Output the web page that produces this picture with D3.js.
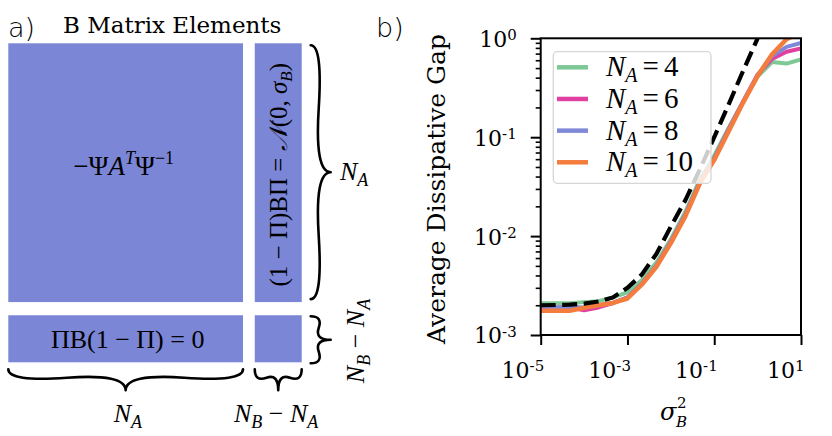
<!DOCTYPE html>
<html>
<head>
<meta charset="utf-8">
<script src="https://cdn.jsdelivr.net/npm/d3@7/dist/d3.min.js"></script>
<style>
  html, body { margin: 0; padding: 0; background: #fff; }
  svg { display: block; }
  text { font-family: "DejaVu Serif", serif; fill: #000; }
</style>
</head>
<body>
<svg id="fig" width="832" height="436"></svg>
<script>
// ---------------- DATA ----------------
// sigma_B^2 sample values (x axis, log spaced)
const sigma2 = [1e-5, 2.154e-5, 4.642e-5, 1e-4, 2.154e-4, 4.642e-4, 1e-3, 2.154e-3, 4.642e-3,
                1e-2, 2.154e-2, 4.642e-2, 0.1, 0.2154, 0.4642, 1, 2.154, 4.642, 10];
const seriesNames = ["4", "6", "8", "10"];
const gapNA4  = [0.0021, 0.0021, 0.0021, 0.00215, 0.0022, 0.0024, 0.0027, 0.0036, 0.0054, 0.0093,
                 0.0175, 0.037, 0.065, 0.125, 0.23, 0.41, 0.575, 0.555, 0.61];
const gapNA6  = [0.0019, 0.0019, 0.0019, 0.00178, 0.0019, 0.0021, 0.0024, 0.0033, 0.005, 0.0088,
                 0.0165, 0.035, 0.061, 0.12, 0.23, 0.43, 0.62, 0.73, 0.79];
const gapNA8  = [0.00195, 0.0019, 0.00192, 0.0019, 0.002, 0.00212, 0.00238, 0.0033, 0.005, 0.0087,
                 0.0163, 0.035, 0.061, 0.118, 0.228, 0.42, 0.66, 0.82, 0.90];
const gapNA10 = [0.00176, 0.00176, 0.00176, 0.00188, 0.0020, 0.00211, 0.00234, 0.00324, 0.0049, 0.0085,
                 0.0158, 0.0339, 0.0589, 0.115, 0.224, 0.417, 0.69, 0.98, 1.15];
// dashed theory curve (first 16 sigma values)
const theoryGap = [0.0020, 0.00201, 0.00203, 0.00208, 0.00218, 0.0024, 0.0030, 0.0041, 0.0066, 0.0125,
                   0.023, 0.047, 0.10, 0.215, 0.47, 1.0];
const seriesColors = ["#7ec895", "#e040a0", "#8088d8", "#f47c3c"];
const xTickValues = [1e-5, 1e-3, 1e-1, 1e1];
const xTickExps = ["-5", "-3", "-1", "1"];
const yTickValues = [1e-3, 1e-2, 1e-1, 1];
const yTickExps = ["-3", "-2", "-1", "0"];

// Panel a: block matrix structure (column / row sizes in arbitrary units)
const colSizes = [5, 1];
const rowSizes = [5.5, 1];
const blockGapX = 0.25, blockGapY = 0.28;
const blockColor = "#7b86d6";

// ---------------- FIGURE ----------------
const svg = d3.select("#fig");

// ===== Panel b =====
const pb = { left: 540.7, right: 801, top: 38.3, bottom: 335 };
const x = d3.scaleLog().domain([1e-5, 10]).range([pb.left, pb.right]);
const y = d3.scaleLog().domain([1e-3, 1]).range([pb.bottom, pb.top]);

svg.append("defs").append("clipPath").attr("id", "clipB")
  .append("rect").attr("x", pb.left).attr("y", pb.top)
  .attr("width", pb.right - pb.left).attr("height", pb.bottom - pb.top);

const line = d3.line().x(d => x(d[0])).y(d => y(d[1]));
const allSeries = [gapNA4, gapNA6, gapNA8, gapNA10];
const gLines = svg.append("g").attr("clip-path", "url(#clipB)");
allSeries.forEach((s, i) => {
  gLines.append("path")
    .attr("d", line(sigma2.map((v, k) => [v, s[k]])))
    .attr("fill", "none").attr("stroke", seriesColors[i])
    .attr("stroke-width", i === 3 ? 4.5 : 4)
    .attr("stroke-linejoin", "round");
});
gLines.append("path")
  .attr("d", line(theoryGap.map((v, k) => [sigma2[k], v])))
  .attr("fill", "none").attr("stroke", "#000")
  .attr("stroke-width", 4.2).attr("stroke-dasharray", "15,6.5");

// frame
svg.append("rect").attr("x", pb.left).attr("y", pb.top)
  .attr("width", pb.right - pb.left).attr("height", pb.bottom - pb.top)
  .attr("fill", "none").attr("stroke", "#000").attr("stroke-width", 2);

// y axis: minor ticks
const yMinor = [];
[1e-3, 1e-2, 1e-1].forEach(d => { for (let m = 2; m <= 9; m++) yMinor.push(d * m); });
const yAxisMinor = d3.axisLeft(y).tickValues(yMinor).tickSize(5).tickFormat("");
const gyMin = svg.append("g").attr("transform", `translate(${pb.left},0)`).call(yAxisMinor);
gyMin.select(".domain").remove();
gyMin.selectAll("line").attr("stroke-width", 1.6);

const yAxisMajor = d3.axisLeft(y).tickValues(yTickValues).tickSize(10).tickFormat("");
const gy = svg.append("g").attr("transform", `translate(${pb.left},0)`).call(yAxisMajor);
gy.select(".domain").remove();
gy.selectAll("line").attr("stroke-width", 2);
gy.selectAll(".tick").append("text")
  .attr("dy", "0.36em")
  .style("font-size", "22px")
  .each(function(d, i) {
    const t = d3.select(this);
    t.append("tspan").text("10");
    t.append("tspan").attr("dy", "-0.45em").style("font-size", "15px").text(yTickExps[i]);
  })
  .attr("text-anchor", "start")
  .attr("x", function() { return -24 - this.getComputedTextLength(); });

// x axis
const xAxis = d3.axisBottom(x).tickValues(xTickValues).tickSize(10).tickFormat("");
const gx = svg.append("g").attr("transform", `translate(0,${pb.bottom})`).call(xAxis);
gx.select(".domain").remove();
gx.selectAll("line").attr("stroke-width", 2);
gx.selectAll(".tick").append("text")
  .attr("y", 43)
  .style("font-size", "22px")
  .each(function(d, i) {
    const t = d3.select(this);
    t.append("tspan").text("10");
    t.append("tspan").attr("dy", "-0.45em").style("font-size", "15px").text(xTickExps[i]);
  })
  .attr("x", function() { return -this.getComputedTextLength() / 2 + 3; });

// axis labels
svg.append("text")
  .attr("transform", `translate(445,189) rotate(-90)`)
  .attr("text-anchor", "middle").style("font-size", "25px")
  .text("Average Dissipative Gap");

const xl = svg.append("g").attr("transform", "translate(671,420)");
xl.append("text").attr("x", -11).attr("y", 0).style("font-size", "24px")
  .style("font-style", "italic").text("σ");
xl.append("text").attr("x", 5).attr("y", 7).style("font-size", "15px")
  .style("font-style", "italic").text("B");
xl.append("text").attr("x", 6).attr("y", -12).style("font-size", "15px").text("2");

// legend
const lg = svg.append("g");
lg.append("rect").attr("x", 553.3).attr("y", 51.7).attr("width", 157.7).attr("height", 131.6)
  .attr("rx", 4).attr("fill", "#fff").attr("fill-opacity", 0.8)
  .attr("stroke", "#d6d6d6").attr("stroke-width", 1.3);
const legY = d3.scalePoint().domain(seriesNames).range([67.3, 162.3]);
seriesNames.forEach((n, i) => {
  const yy = legY(n);
  lg.append("line").attr("x1", 557).attr("x2", 588).attr("y1", yy).attr("y2", yy)
    .attr("stroke", seriesColors[i]).attr("stroke-width", 4.5);
  const t = lg.append("text").attr("x", 606).attr("y", yy + 9)
    .style("font-family", "'Liberation Serif', serif").style("font-size", "29px");
  t.append("tspan").style("font-style", "italic").text("N");
  t.append("tspan").style("font-style", "italic").style("font-size", "20px").attr("dy", 6).text("A");
  t.append("tspan").attr("dy", -6).attr("dx", 5).text("=");
  t.append("tspan").attr("dx", 5).text(n);
});

// panel label b)
svg.append("text").attr("x", 376).attr("y", 37)
  .style("font-family", "'DejaVu Sans', sans-serif").style("font-weight", "200")
  .style("font-size", "27px").text("b)");

// ===== Panel a =====
const totalCols = d3.sum(colSizes) + blockGapX;
const totalRows = d3.sum(rowSizes) + blockGapY;
const xa = d3.scaleLinear().domain([0, totalCols]).range([8.3, 301.7]);
const ya = d3.scaleLinear().domain([0, totalRows]).range([43.3, 362.3]);
const colStart = [0, colSizes[0] + blockGapX];
const rowStart = [0, rowSizes[0] + blockGapY];
const blocks = [];
rowSizes.forEach((rh, r) => colSizes.forEach((cw, c) => blocks.push({ r, c, x0: colStart[c], y0: rowStart[r], w: cw, h: rh })));
svg.append("g").selectAll("rect").data(blocks).join("rect")
  .attr("x", d => xa(d.x0)).attr("y", d => ya(d.y0))
  .attr("width", d => xa(d.x0 + d.w) - xa(d.x0))
  .attr("height", d => ya(d.y0 + d.h) - ya(d.y0))
  .attr("fill", blockColor);

svg.append("text").attr("x", 8).attr("y", 37)
  .style("font-family", "'DejaVu Sans', sans-serif").style("font-weight", "200")
  .style("font-size", "27px").text("a)");
svg.append("text").attr("x", 63).attr("y", 33).style("font-size", "23px")
  .style("font-family", "'DejaVu Serif', serif")
  .text("B Matrix Elements");

const mathFont = "'Liberation Serif', serif";
// block 1 label
{
  const cx = (xa(colStart[0]) + xa(colStart[0] + colSizes[0])) / 2;
  const t = svg.append("text").attr("x", cx - 2).attr("y", 175).attr("text-anchor", "middle")
    .style("font-family", mathFont).style("font-size", "27px");
  t.append("tspan").text("−Ψ");
  t.append("tspan").style("font-style", "italic").text("A");
  t.append("tspan").style("font-style", "italic").style("font-size", "18px").attr("dy", -11).text("T");
  t.append("tspan").attr("dy", 11).text("Ψ");
  t.append("tspan").style("font-size", "18px").attr("dy", -11).text("−1");
}
// block 3 label
{
  const cx = (xa(colStart[0]) + xa(colStart[0] + colSizes[0])) / 2;
  const cy = (ya(rowStart[1]) + ya(rowStart[1] + rowSizes[1])) / 2;
  svg.append("text").attr("x", cx + 2).attr("y", cy + 9).attr("text-anchor", "middle")
    .style("font-family", mathFont).style("font-size", "26px")
    .text("ΠB(1 − Π) = 0");
}
// block 2 rotated label
{
  const cx = (xa(colStart[1]) + xa(colStart[1] + colSizes[1])) / 2;
  const cy = (ya(rowStart[0]) + ya(rowStart[0] + rowSizes[0])) / 2;
  const t = svg.append("text").attr("transform", `translate(${cx + 9},${cy + 2}) rotate(-90)`)
    .attr("text-anchor", "middle")
    .style("font-family", mathFont).style("font-size", "25px");
  t.append("tspan").text("(1 − Π)BΠ = ");
  t.append("tspan").style("font-style", "italic").text("𝒩");
  t.append("tspan").text("(0, ");
  t.append("tspan").style("font-style", "italic").text("σ");
  t.append("tspan").style("font-style", "italic").style("font-size", "17px").attr("dy", 5).text("B");
  t.append("tspan").attr("dy", -5).text(")");
}

// braces
function curlyBrace(x1, y1, x2, y2, w, q) {
  let dx = x1 - x2, dy = y1 - y2;
  const len = Math.sqrt(dx * dx + dy * dy);
  dx /= len; dy /= len;
  const qx1 = x1 + q * w * dy, qy1 = y1 - q * w * dx;
  const qx2 = (x1 - .25 * len * dx) + (1 - q) * w * dy, qy2 = (y1 - .25 * len * dy) - (1 - q) * w * dx;
  const tx1 = (x1 - .5 * len * dx) + w * dy, ty1 = (y1 - .5 * len * dy) - w * dx;
  const qx3 = x2 + q * w * dy, qy3 = y2 - q * w * dx;
  const qx4 = (x1 - .75 * len * dx) + (1 - q) * w * dy, qy4 = (y1 - .75 * len * dy) - (1 - q) * w * dx;
  return `M${x1},${y1} Q${qx1},${qy1} ${qx2},${qy2} T${tx1},${ty1} M${x2},${y2} Q${qx3},${qy3} ${qx4},${qy4} T${tx1},${ty1}`;
}
const braceG = svg.append("g").attr("fill", "none").attr("stroke", "#000")
  .attr("stroke-width", 2.6).attr("stroke-linecap", "round");
const bxR = xa(totalCols) + 9;
// right braces (rows)
braceG.append("path").attr("d", curlyBrace(bxR, ya(rowStart[0] + rowSizes[0]) - 3, bxR, ya(rowStart[0]) + 2, 20, 0.6));
braceG.append("path").attr("d", curlyBrace(bxR, ya(rowStart[1] + rowSizes[1]) + 1, bxR, ya(rowStart[1]) + 1, 20, 0.6));
// bottom braces (cols)
const byB = ya(totalRows) + 7;
braceG.append("path").attr("d", curlyBrace(xa(colStart[0]), byB, xa(colStart[0] + colSizes[0]), byB, 21, 0.6));
braceG.append("path").attr("d", curlyBrace(xa(colStart[1]), byB, xa(colStart[1] + colSizes[1]), byB, 21, 0.6));

function naLabel(sel, px, py, sub) {
  const t = sel.append("text").attr("x", px).attr("y", py)
    .style("font-family", mathFont).style("font-size", "26px");
  t.append("tspan").style("font-style", "italic").text("N");
  t.append("tspan").style("font-style", "italic").style("font-size", "18px").attr("dy", 6).text(sub);
  return t;
}
function diffLabel(t) {
  t.append("tspan").attr("dy", -6).text(" − ");
  t.append("tspan").style("font-style", "italic").text("N");
  t.append("tspan").style("font-style", "italic").style("font-size", "18px").attr("dy", 6).text("A");
}
// right label N_A
naLabel(svg, 340, (ya(rowStart[0]) + ya(rowStart[0] + rowSizes[0])) / 2 + 7, "A");
// bottom labels
naLabel(svg, (xa(colStart[0]) + xa(colStart[0] + colSizes[0])) / 2 - 12, 422, "A");
{
  const t = naLabel(svg, 234, 422, "B");
  diffLabel(t);
}
// rotated N_B - N_A
{
  const g = svg.append("g").attr("transform", `translate(364,341) rotate(-90)`);
  const t = g.append("text").attr("x", 0).attr("y", 0).attr("text-anchor", "middle")
    .style("font-family", mathFont).style("font-size", "26px");
  t.append("tspan").style("font-style", "italic").text("N");
  t.append("tspan").style("font-style", "italic").style("font-size", "18px").attr("dy", 6).text("B");
  diffLabel(t);
}
</script>
</body>
</html>
